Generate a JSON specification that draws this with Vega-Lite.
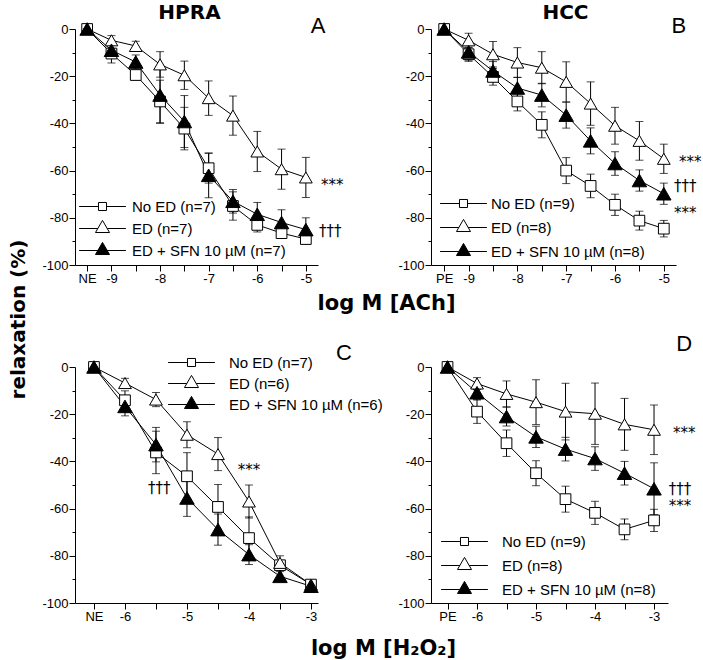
{
  "$schema": "https://vega.github.io/schema/vega-lite/v6.json",
  "padding": {"left": 8, "top": 2, "right": 5, "bottom": 5},
  "config": {
    "view": {"stroke": null},
    "font": "Liberation Sans",
    "axis": {"grid": false, "domainColor": "black", "domainWidth": 1, "tickColor": "black", "tickWidth": 1, "labelColor": "black", "labelFont": "Liberation Sans", "labelFontSize": 13, "titleColor": "black", "titleFont": "DejaVu Sans", "titleFontWeight": "bold", "titleFontSize": 21, "labelFlush": false, "labelOverlap": false},
    "title": {"font": "DejaVu Sans", "fontSize": 20, "fontWeight": "bold", "color": "black", "anchor": "middle", "frame": "group", "offset": -8},
    "legend": {"orient": "none", "title": null, "padding": 0, "symbolSize": 144, "labelFont": "Liberation Sans", "labelFontSize": 15, "labelColor": "black"}
  },
  "datasets": {
    "pts": [
      {"p":"A","g":"noed","x":-9.5,"y":0,"e":2},{"p":"A","g":"noed","x":-9,"y":-10.4,"e":4},{"p":"A","g":"noed","x":-8.5,"y":-19.5,"e":2},{"p":"A","g":"noed","x":-8,"y":-30.7,"e":9},{"p":"A","g":"noed","x":-7.5,"y":-42.2,"e":9},{"p":"A","g":"noed","x":-7,"y":-59,"e":6.3},{"p":"A","g":"noed","x":-6.5,"y":-75,"e":6},{"p":"A","g":"noed","x":-6,"y":-83,"e":3},{"p":"A","g":"noed","x":-5.5,"y":-86.5,"e":2},{"p":"A","g":"noed","x":-5,"y":-89,"e":2},
      {"p":"A","g":"ed","x":-9.5,"y":0,"e":0.5},{"p":"A","g":"ed","x":-9,"y":-4.8,"e":2},{"p":"A","g":"ed","x":-8.5,"y":-7.2,"e":2},{"p":"A","g":"ed","x":-8,"y":-15,"e":5.4},{"p":"A","g":"ed","x":-7.5,"y":-19.6,"e":6},{"p":"A","g":"ed","x":-7,"y":-29.3,"e":7.3},{"p":"A","g":"ed","x":-6.5,"y":-36.7,"e":8.3},{"p":"A","g":"ed","x":-6,"y":-51.9,"e":8.5},{"p":"A","g":"ed","x":-5.5,"y":-59.4,"e":8.5},{"p":"A","g":"ed","x":-5,"y":-62.9,"e":8.5},
      {"p":"A","g":"sfn","x":-9.5,"y":0,"e":0.5},{"p":"A","g":"sfn","x":-9,"y":-9,"e":3},{"p":"A","g":"sfn","x":-8.5,"y":-14,"e":3},{"p":"A","g":"sfn","x":-8,"y":-28,"e":12},{"p":"A","g":"sfn","x":-7.5,"y":-39.2,"e":11},{"p":"A","g":"sfn","x":-7,"y":-62,"e":9.5},{"p":"A","g":"sfn","x":-6.5,"y":-73,"e":5},{"p":"A","g":"sfn","x":-6,"y":-78.5,"e":5},{"p":"A","g":"sfn","x":-5.5,"y":-82,"e":5.4},{"p":"A","g":"sfn","x":-5,"y":-85,"e":5},
      {"p":"B","g":"noed","x":-9.5,"y":0,"e":1.5},{"p":"B","g":"noed","x":-9,"y":-10.7,"e":3},{"p":"B","g":"noed","x":-8.5,"y":-20.3,"e":3.5},{"p":"B","g":"noed","x":-8,"y":-30.7,"e":4},{"p":"B","g":"noed","x":-7.5,"y":-40.6,"e":5.5},{"p":"B","g":"noed","x":-7,"y":-60,"e":5.5},{"p":"B","g":"noed","x":-6.5,"y":-66.5,"e":5},{"p":"B","g":"noed","x":-6,"y":-74.5,"e":4.5},{"p":"B","g":"noed","x":-5.5,"y":-81.2,"e":4},{"p":"B","g":"noed","x":-5,"y":-84.6,"e":3.5},
      {"p":"B","g":"ed","x":-9.5,"y":0,"e":1},{"p":"B","g":"ed","x":-9,"y":-4.8,"e":3},{"p":"B","g":"ed","x":-8.5,"y":-10.7,"e":5.4},{"p":"B","g":"ed","x":-8,"y":-14.2,"e":6.3},{"p":"B","g":"ed","x":-7.5,"y":-16.4,"e":6.8},{"p":"B","g":"ed","x":-7,"y":-22.4,"e":8.5},{"p":"B","g":"ed","x":-6.5,"y":-31.6,"e":9.2},{"p":"B","g":"ed","x":-6,"y":-41,"e":7.8},{"p":"B","g":"ed","x":-5.5,"y":-47.4,"e":8.2},{"p":"B","g":"ed","x":-5,"y":-55,"e":6.2},
      {"p":"B","g":"sfn","x":-9.5,"y":0,"e":1},{"p":"B","g":"sfn","x":-9,"y":-9.7,"e":3.5},{"p":"B","g":"sfn","x":-8.5,"y":-17.8,"e":4},{"p":"B","g":"sfn","x":-8,"y":-25,"e":4.5},{"p":"B","g":"sfn","x":-7.5,"y":-28,"e":5},{"p":"B","g":"sfn","x":-7,"y":-36.5,"e":5.5},{"p":"B","g":"sfn","x":-6.5,"y":-47.4,"e":5.5},{"p":"B","g":"sfn","x":-6,"y":-57,"e":5},{"p":"B","g":"sfn","x":-5.5,"y":-64.2,"e":4.5},{"p":"B","g":"sfn","x":-5,"y":-69.8,"e":4.5},
      {"p":"C","g":"noed","x":-6.5,"y":0,"e":1.5},{"p":"C","g":"noed","x":-6,"y":-14.1,"e":4},{"p":"C","g":"noed","x":-5.5,"y":-36.2,"e":9},{"p":"C","g":"noed","x":-5,"y":-46.3,"e":10},{"p":"C","g":"noed","x":-4.5,"y":-59.3,"e":9.5},{"p":"C","g":"noed","x":-4,"y":-72.5,"e":9},{"p":"C","g":"noed","x":-3.5,"y":-84,"e":2},{"p":"C","g":"noed","x":-3,"y":-92.2,"e":1.5},
      {"p":"C","g":"ed","x":-6.5,"y":0,"e":1},{"p":"C","g":"ed","x":-6,"y":-6.8,"e":2},{"p":"C","g":"ed","x":-5.5,"y":-13.8,"e":3},{"p":"C","g":"ed","x":-5,"y":-28.7,"e":5.5},{"p":"C","g":"ed","x":-4.5,"y":-36.9,"e":7},{"p":"C","g":"ed","x":-4,"y":-57,"e":7},{"p":"C","g":"ed","x":-3.5,"y":-83,"e":3},{"p":"C","g":"ed","x":-3,"y":-92.2,"e":1.5},
      {"p":"C","g":"sfn","x":-6.5,"y":0,"e":1},{"p":"C","g":"sfn","x":-6,"y":-16.7,"e":4},{"p":"C","g":"sfn","x":-5.5,"y":-32.9,"e":7.3},{"p":"C","g":"sfn","x":-5,"y":-55.5,"e":7.8},{"p":"C","g":"sfn","x":-4.5,"y":-68.9,"e":6.6},{"p":"C","g":"sfn","x":-4,"y":-79.5,"e":4.2},{"p":"C","g":"sfn","x":-3.5,"y":-88.7,"e":2},{"p":"C","g":"sfn","x":-3,"y":-92.9,"e":1.5},
      {"p":"D","g":"noed","x":-6.5,"y":0,"e":1.5},{"p":"D","g":"noed","x":-6,"y":-18.9,"e":5},{"p":"D","g":"noed","x":-5.5,"y":-32.3,"e":5.6},{"p":"D","g":"noed","x":-5,"y":-45,"e":5.3},{"p":"D","g":"noed","x":-4.5,"y":-56,"e":5.5},{"p":"D","g":"noed","x":-4,"y":-61.8,"e":4.9},{"p":"D","g":"noed","x":-3.5,"y":-68.8,"e":4.4},{"p":"D","g":"noed","x":-3,"y":-65,"e":4.7},
      {"p":"D","g":"ed","x":-6.5,"y":0,"e":1},{"p":"D","g":"ed","x":-6,"y":-7,"e":2.5},{"p":"D","g":"ed","x":-5.5,"y":-11.4,"e":5.5},{"p":"D","g":"ed","x":-5,"y":-14.9,"e":9.5},{"p":"D","g":"ed","x":-4.5,"y":-18.9,"e":12},{"p":"D","g":"ed","x":-4,"y":-19.8,"e":13},{"p":"D","g":"ed","x":-3.5,"y":-24.3,"e":11},{"p":"D","g":"ed","x":-3,"y":-26.6,"e":10.5},
      {"p":"D","g":"sfn","x":-6.5,"y":0,"e":1},{"p":"D","g":"sfn","x":-6,"y":-10.9,"e":3},{"p":"D","g":"sfn","x":-5.5,"y":-21,"e":4},{"p":"D","g":"sfn","x":-5,"y":-29.6,"e":4.5},{"p":"D","g":"sfn","x":-4.5,"y":-34.8,"e":5},{"p":"D","g":"sfn","x":-4,"y":-38.8,"e":5},{"p":"D","g":"sfn","x":-3.5,"y":-45,"e":5},{"p":"D","g":"sfn","x":-3,"y":-51.6,"e":11}
    ],
    "notes": [
      {"p":"A","k":"n","t":"***","x":-4.69,"y":-66},{"p":"A","k":"n","t":"†††","x":-4.73,"y":-85.6},{"p":"A","k":"L","t":"A","x":-4.75,"y":1.3},
      {"p":"B","k":"n","t":"***","x":-4.69,"y":-56.4},{"p":"B","k":"n","t":"†††","x":-4.79,"y":-66.5},{"p":"B","k":"n","t":"***","x":-4.79,"y":-78},{"p":"B","k":"L","t":"B","x":-4.69,"y":1.3},
      {"p":"C","k":"n","t":"***","x":-4.18,"y":-43.6},{"p":"C","k":"n","t":"†††","x":-5.63,"y":-51.3},{"p":"C","k":"L","t":"C","x":-2.47,"y":5.9},
      {"p":"D","k":"n","t":"***","x":-2.68,"y":-27.9},{"p":"D","k":"n","t":"†††","x":-2.75,"y":-51.5},{"p":"D","k":"n","t":"***","x":-2.75,"y":-59.1},{"p":"D","k":"L","t":"D","x":-2.49,"y":9.7}
    ]
  },
  "columns": 2,
  "bounds": "flush",
  "spacing": {"row": 102, "column": 113},
  "resolve": {"scale": {"shape": "independent", "fill": "independent", "size": "independent"}},
  "concat": [
    {
      "width": 243, "height": 236,
      "title": {"text": "HPRA", "dx": -7},
      "encoding": {
        "x": {"field": "x", "type": "quantitative", "scale": {"domain": [-9.75, -4.75], "nice": false, "zero": false},
              "axis": {"values": [-9.5,-9,-8.5,-8,-7.5,-7,-6.5,-6,-5.5,-5], "labelExpr": "datum.value == -9.5 ? 'NE' : (datum.value % 1 == 0 ? '' + datum.value : '')", "tickSize": 6, "labelPadding": 1, "title": "log M [ACh]", "titleX": 311, "titleY": 38, "titleAlign": "center", "titleBaseline": "middle"}},
        "y": {"field": "y", "type": "quantitative", "scale": {"domain": [-100, 0], "nice": false, "zero": false},
              "axis": {"values": [0,-10,-20,-30,-40,-50,-60,-70,-80,-90,-100], "labelExpr": "datum.value % 20 == 0 ? '' + datum.value : ''", "tickSize": {"condition": {"test": "datum.value % 20 == 0", "value": 6}, "value": 3}, "labelPadding": 1, "title": "relaxation (%)", "titleX": -57, "titleY": 290, "titleAlign": "center", "titleBaseline": "middle", "titleFontSize": 20}}
      },
      "layer": [
        {"data": {"name": "pts"}, "transform": [{"filter": "datum.p == 'A'"}], "mark": {"type": "errorbar", "ticks": {"size": 8, "color": "black", "thickness": 1}, "rule": {"color": "black", "strokeWidth": 1}}, "encoding": {"yError": {"field": "e"}}},
        {"data": {"name": "pts"}, "transform": [{"filter": "datum.p == 'A'"}], "mark": {"type": "line", "color": "black", "strokeWidth": 1}, "encoding": {"detail": {"field": "g"}}},
        {"data": {"name": "pts"}, "transform": [{"filter": "datum.p == 'A'"}], "mark": {"type": "point", "filled": true, "opacity": 1, "stroke": "black", "strokeWidth": 1},
         "encoding": {"shape": {"field": "g", "type": "nominal", "scale": {"domain": ["noed","ed","sfn"], "range": ["square","triangle-up","triangle-up"]}, "legend": null},
                      "fill": {"field": "g", "type": "nominal", "scale": {"domain": ["noed","ed","sfn"], "range": ["white","white","black"]}, "legend": null},
                      "size": {"field": "g", "type": "ordinal", "scale": {"domain": ["noed","ed","sfn"], "range": [115,210,210]}, "legend": null}}},
        {"data": {"name": "pts"}, "transform": [{"filter": "datum.p == 'A'"}, {"filter": "false"}], "mark": {"type": "point", "filled": true, "opacity": 1, "stroke": "black", "strokeWidth": 1},
         "encoding": {"shape": {"field": "g", "type": "nominal", "scale": {"domain": ["noed","ed","sfn"], "range": ["M-3.9,0H-0.67M0.67,0H3.9M-0.67,-0.67H0.67V0.67H-0.67Z","M-3.9,0H-0.78M0.78,0H3.9M0,-1.35L-1.17,0.67L1.17,0.67Z","M-3.9,0H-0.78M0.78,0H3.9M0,-1.35L-1.17,0.67L1.17,0.67Z"]},
                                "legend": {"orient": "none", "legendX": 20, "legendY": 170, "labelOffset": 22, "rowPadding": 3, "symbolSize": 144, "labelExpr": "datum.label == 'noed' ? 'No ED (n=7)' : datum.label == 'ed' ? 'ED (n=7)' : 'ED + SFN 10 µM (n=7)'", "encoding": {"symbols": {"stroke": {"value": "black"}, "strokeWidth": {"value": 1}, "size": {"value": 144}, "opacity": {"value": 1}}}}},
                      "fill": {"field": "g", "type": "nominal", "scale": {"domain": ["noed","ed","sfn"], "range": ["white","white","black"]},
                                "legend": {"orient": "none", "legendX": 20, "legendY": 170, "labelOffset": 22, "rowPadding": 3, "symbolSize": 144, "labelExpr": "datum.label == 'noed' ? 'No ED (n=7)' : datum.label == 'ed' ? 'ED (n=7)' : 'ED + SFN 10 µM (n=7)'", "encoding": {"symbols": {"stroke": {"value": "black"}, "strokeWidth": {"value": 1}, "size": {"value": 144}, "opacity": {"value": 1}}}}}}},
        {"data": {"name": "notes"}, "transform": [{"filter": "datum.p == 'A' && datum.k == 'n'"}], "mark": {"type": "text", "align": "left", "baseline": "middle", "font": "DejaVu Sans", "fontSize": 15, "color": "black"}, "encoding": {"text": {"field": "t"}}},
        {"data": {"name": "notes"}, "transform": [{"filter": "datum.p == 'A' && datum.k == 'L'"}], "mark": {"type": "text", "align": "center", "baseline": "middle", "font": "Liberation Sans", "fontSize": 22, "color": "black"}, "encoding": {"text": {"field": "t"}}}
      ],
      "resolve": {"scale": {"shape": "independent", "fill": "independent"}}
    },
    {
      "width": 245, "height": 236,
      "title": {"text": "HCC", "dx": 12},
      "encoding": {
        "x": {"field": "x", "type": "quantitative", "scale": {"domain": [-9.77, -4.75], "nice": false, "zero": false},
              "axis": {"values": [-9.5,-9,-8.5,-8,-7.5,-7,-6.5,-6,-5.5,-5], "labelExpr": "datum.value == -9.5 ? 'PE' : (datum.value % 1 == 0 ? '' + datum.value : '')", "tickSize": 6, "labelPadding": 1, "title": null}},
        "y": {"field": "y", "type": "quantitative", "scale": {"domain": [-100, 0], "nice": false, "zero": false},
              "axis": {"values": [0,-10,-20,-30,-40,-50,-60,-70,-80,-90,-100], "labelExpr": "datum.value % 20 == 0 ? '' + datum.value : ''", "tickSize": {"condition": {"test": "datum.value % 20 == 0", "value": 6}, "value": 3}, "labelPadding": 1, "title": null}}
      },
      "layer": [
        {"data": {"name": "pts"}, "transform": [{"filter": "datum.p == 'B'"}], "mark": {"type": "errorbar", "ticks": {"size": 8, "color": "black", "thickness": 1}, "rule": {"color": "black", "strokeWidth": 1}}, "encoding": {"yError": {"field": "e"}}},
        {"data": {"name": "pts"}, "transform": [{"filter": "datum.p == 'B'"}], "mark": {"type": "line", "color": "black", "strokeWidth": 1}, "encoding": {"detail": {"field": "g"}}},
        {"data": {"name": "pts"}, "transform": [{"filter": "datum.p == 'B'"}], "mark": {"type": "point", "filled": true, "opacity": 1, "stroke": "black", "strokeWidth": 1},
         "encoding": {"shape": {"field": "g", "type": "nominal", "scale": {"domain": ["noed","ed","sfn"], "range": ["square","triangle-up","triangle-up"]}, "legend": null},
                      "fill": {"field": "g", "type": "nominal", "scale": {"domain": ["noed","ed","sfn"], "range": ["white","white","black"]}, "legend": null},
                      "size": {"field": "g", "type": "ordinal", "scale": {"domain": ["noed","ed","sfn"], "range": [115,210,210]}, "legend": null}}},
        {"data": {"name": "pts"}, "transform": [{"filter": "datum.p == 'B'"}, {"filter": "false"}], "mark": {"type": "point", "filled": true, "opacity": 1, "stroke": "black", "strokeWidth": 1},
         "encoding": {"shape": {"field": "g", "type": "nominal", "scale": {"domain": ["noed","ed","sfn"], "range": ["M-3.9,0H-0.67M0.67,0H3.9M-0.67,-0.67H0.67V0.67H-0.67Z","M-3.9,0H-0.78M0.78,0H3.9M0,-1.35L-1.17,0.67L1.17,0.67Z","M-3.9,0H-0.78M0.78,0H3.9M0,-1.35L-1.17,0.67L1.17,0.67Z"]},
                                "legend": {"orient": "none", "legendX": 25, "legendY": 167, "labelOffset": 20, "rowPadding": 5, "symbolSize": 144, "labelExpr": "datum.label == 'noed' ? 'No ED (n=9)' : datum.label == 'ed' ? 'ED (n=8)' : 'ED + SFN 10 µM (n=8)'", "encoding": {"symbols": {"stroke": {"value": "black"}, "strokeWidth": {"value": 1}, "size": {"value": 144}, "opacity": {"value": 1}}}}},
                      "fill": {"field": "g", "type": "nominal", "scale": {"domain": ["noed","ed","sfn"], "range": ["white","white","black"]},
                                "legend": {"orient": "none", "legendX": 25, "legendY": 167, "labelOffset": 20, "rowPadding": 5, "symbolSize": 144, "labelExpr": "datum.label == 'noed' ? 'No ED (n=9)' : datum.label == 'ed' ? 'ED (n=8)' : 'ED + SFN 10 µM (n=8)'", "encoding": {"symbols": {"stroke": {"value": "black"}, "strokeWidth": {"value": 1}, "size": {"value": 144}, "opacity": {"value": 1}}}}}}},
        {"data": {"name": "notes"}, "transform": [{"filter": "datum.p == 'B' && datum.k == 'n'"}], "mark": {"type": "text", "align": "left", "baseline": "middle", "font": "DejaVu Sans", "fontSize": 15, "color": "black"}, "encoding": {"text": {"field": "t"}}},
        {"data": {"name": "notes"}, "transform": [{"filter": "datum.p == 'B' && datum.k == 'L'"}], "mark": {"type": "text", "align": "center", "baseline": "middle", "font": "Liberation Sans", "fontSize": 22, "color": "black"}, "encoding": {"text": {"field": "t"}}}
      ],
      "resolve": {"scale": {"shape": "independent", "fill": "independent"}}
    },
    {
      "width": 243, "height": 236,
      "encoding": {
        "x": {"field": "x", "type": "quantitative", "scale": {"domain": [-6.806, -2.887], "nice": false, "zero": false},
              "axis": {"values": [-6.5,-6,-5.5,-5,-4.5,-4,-3.5,-3], "labelExpr": "datum.value == -6.5 ? 'NE' : (datum.value % 1 == 0 ? '' + datum.value : '')", "tickSize": 6, "labelPadding": 1, "title": "log M [H₂O₂]", "titleX": 308, "titleY": 45, "titleAlign": "center", "titleBaseline": "middle"}},
        "y": {"field": "y", "type": "quantitative", "scale": {"domain": [-100, 0], "nice": false, "zero": false},
              "axis": {"values": [0,-10,-20,-30,-40,-50,-60,-70,-80,-90,-100], "labelExpr": "datum.value % 20 == 0 ? '' + datum.value : ''", "tickSize": {"condition": {"test": "datum.value % 20 == 0", "value": 6}, "value": 3}, "labelPadding": 1, "title": null}}
      },
      "layer": [
        {"data": {"name": "pts"}, "transform": [{"filter": "datum.p == 'C'"}], "mark": {"type": "errorbar", "ticks": {"size": 8, "color": "black", "thickness": 1}, "rule": {"color": "black", "strokeWidth": 1}}, "encoding": {"yError": {"field": "e"}}},
        {"data": {"name": "pts"}, "transform": [{"filter": "datum.p == 'C'"}], "mark": {"type": "line", "color": "black", "strokeWidth": 1}, "encoding": {"detail": {"field": "g"}}},
        {"data": {"name": "pts"}, "transform": [{"filter": "datum.p == 'C'"}], "mark": {"type": "point", "filled": true, "opacity": 1, "stroke": "black", "strokeWidth": 1},
         "encoding": {"shape": {"field": "g", "type": "nominal", "scale": {"domain": ["noed","ed","sfn"], "range": ["square","triangle-up","triangle-up"]}, "legend": null},
                      "fill": {"field": "g", "type": "nominal", "scale": {"domain": ["noed","ed","sfn"], "range": ["white","white","black"]}, "legend": null},
                      "size": {"field": "g", "type": "ordinal", "scale": {"domain": ["noed","ed","sfn"], "range": [115,210,210]}, "legend": null}}},
        {"data": {"name": "pts"}, "transform": [{"filter": "datum.p == 'C'"}, {"filter": "false"}], "mark": {"type": "point", "filled": true, "opacity": 1, "stroke": "black", "strokeWidth": 1},
         "encoding": {"shape": {"field": "g", "type": "nominal", "scale": {"domain": ["noed","ed","sfn"], "range": ["M-3.9,0H-0.67M0.67,0H3.9M-0.67,-0.67H0.67V0.67H-0.67Z","M-3.9,0H-0.78M0.78,0H3.9M0,-1.35L-1.17,0.67L1.17,0.67Z","M-3.9,0H-0.78M0.78,0H3.9M0,-1.35L-1.17,0.67L1.17,0.67Z"]},
                                "legend": {"orient": "none", "legendX": 109, "legendY": -12, "labelOffset": 30, "rowPadding": 2, "symbolSize": 144, "labelExpr": "datum.label == 'noed' ? 'No ED (n=7)' : datum.label == 'ed' ? 'ED (n=6)' : 'ED + SFN 10 µM (n=6)'", "encoding": {"symbols": {"stroke": {"value": "black"}, "strokeWidth": {"value": 1}, "size": {"value": 144}, "opacity": {"value": 1}}}}},
                      "fill": {"field": "g", "type": "nominal", "scale": {"domain": ["noed","ed","sfn"], "range": ["white","white","black"]},
                                "legend": {"orient": "none", "legendX": 109, "legendY": -12, "labelOffset": 30, "rowPadding": 2, "symbolSize": 144, "labelExpr": "datum.label == 'noed' ? 'No ED (n=7)' : datum.label == 'ed' ? 'ED (n=6)' : 'ED + SFN 10 µM (n=6)'", "encoding": {"symbols": {"stroke": {"value": "black"}, "strokeWidth": {"value": 1}, "size": {"value": 144}, "opacity": {"value": 1}}}}}}},
        {"data": {"name": "notes"}, "transform": [{"filter": "datum.p == 'C' && datum.k == 'n'"}], "mark": {"type": "text", "align": "left", "baseline": "middle", "font": "DejaVu Sans", "fontSize": 15, "color": "black"}, "encoding": {"text": {"field": "t"}}},
        {"data": {"name": "notes"}, "transform": [{"filter": "datum.p == 'C' && datum.k == 'L'"}], "mark": {"type": "text", "align": "center", "baseline": "middle", "font": "Liberation Sans", "fontSize": 22, "color": "black"}, "encoding": {"text": {"field": "t"}}}
      ],
      "resolve": {"scale": {"shape": "independent", "fill": "independent"}}
    },
    {
      "width": 237, "height": 236,
      "encoding": {
        "x": {"field": "x", "type": "quantitative", "scale": {"domain": [-6.78, -2.763], "nice": false, "zero": false},
              "axis": {"values": [-6.5,-6,-5.5,-5,-4.5,-4,-3.5,-3], "labelExpr": "datum.value == -6.5 ? 'PE' : (datum.value % 1 == 0 ? '' + datum.value : '')", "tickSize": 6, "labelPadding": 1, "title": null}},
        "y": {"field": "y", "type": "quantitative", "scale": {"domain": [-100, 0], "nice": false, "zero": false},
              "axis": {"values": [0,-10,-20,-30,-40,-50,-60,-70,-80,-90,-100], "labelExpr": "datum.value % 20 == 0 ? '' + datum.value : ''", "tickSize": {"condition": {"test": "datum.value % 20 == 0", "value": 6}, "value": 3}, "labelPadding": 1, "title": null}}
      },
      "layer": [
        {"data": {"name": "pts"}, "transform": [{"filter": "datum.p == 'D'"}], "mark": {"type": "errorbar", "ticks": {"size": 8, "color": "black", "thickness": 1}, "rule": {"color": "black", "strokeWidth": 1}}, "encoding": {"yError": {"field": "e"}}},
        {"data": {"name": "pts"}, "transform": [{"filter": "datum.p == 'D'"}], "mark": {"type": "line", "color": "black", "strokeWidth": 1}, "encoding": {"detail": {"field": "g"}}},
        {"data": {"name": "pts"}, "transform": [{"filter": "datum.p == 'D'"}], "mark": {"type": "point", "filled": true, "opacity": 1, "stroke": "black", "strokeWidth": 1},
         "encoding": {"shape": {"field": "g", "type": "nominal", "scale": {"domain": ["noed","ed","sfn"], "range": ["square","triangle-up","triangle-up"]}, "legend": null},
                      "fill": {"field": "g", "type": "nominal", "scale": {"domain": ["noed","ed","sfn"], "range": ["white","white","black"]}, "legend": null},
                      "size": {"field": "g", "type": "ordinal", "scale": {"domain": ["noed","ed","sfn"], "range": [115,210,210]}, "legend": null}}},
        {"data": {"name": "pts"}, "transform": [{"filter": "datum.p == 'D'"}, {"filter": "false"}], "mark": {"type": "point", "filled": true, "opacity": 1, "stroke": "black", "strokeWidth": 1},
         "encoding": {"shape": {"field": "g", "type": "nominal", "scale": {"domain": ["noed","ed","sfn"], "range": ["M-3.9,0H-0.67M0.67,0H3.9M-0.67,-0.67H0.67V0.67H-0.67Z","M-3.9,0H-0.78M0.78,0H3.9M0,-1.35L-1.17,0.67L1.17,0.67Z","M-3.9,0H-0.78M0.78,0H3.9M0,-1.35L-1.17,0.67L1.17,0.67Z"]},
                                "legend": {"orient": "none", "legendX": 26, "legendY": 167, "labelOffset": 30, "rowPadding": 5, "symbolSize": 144, "labelExpr": "datum.label == 'noed' ? 'No ED (n=9)' : datum.label == 'ed' ? 'ED (n=8)' : 'ED + SFN 10 µM (n=8)'", "encoding": {"symbols": {"stroke": {"value": "black"}, "strokeWidth": {"value": 1}, "size": {"value": 144}, "opacity": {"value": 1}}}}},
                      "fill": {"field": "g", "type": "nominal", "scale": {"domain": ["noed","ed","sfn"], "range": ["white","white","black"]},
                                "legend": {"orient": "none", "legendX": 26, "legendY": 167, "labelOffset": 30, "rowPadding": 5, "symbolSize": 144, "labelExpr": "datum.label == 'noed' ? 'No ED (n=9)' : datum.label == 'ed' ? 'ED (n=8)' : 'ED + SFN 10 µM (n=8)'", "encoding": {"symbols": {"stroke": {"value": "black"}, "strokeWidth": {"value": 1}, "size": {"value": 144}, "opacity": {"value": 1}}}}}}},
        {"data": {"name": "notes"}, "transform": [{"filter": "datum.p == 'D' && datum.k == 'n'"}], "mark": {"type": "text", "align": "left", "baseline": "middle", "font": "DejaVu Sans", "fontSize": 15, "color": "black"}, "encoding": {"text": {"field": "t"}}},
        {"data": {"name": "notes"}, "transform": [{"filter": "datum.p == 'D' && datum.k == 'L'"}], "mark": {"type": "text", "align": "center", "baseline": "middle", "font": "Liberation Sans", "fontSize": 22, "color": "black"}, "encoding": {"text": {"field": "t"}}}
      ],
      "resolve": {"scale": {"shape": "independent", "fill": "independent"}}
    }
  ]
}
